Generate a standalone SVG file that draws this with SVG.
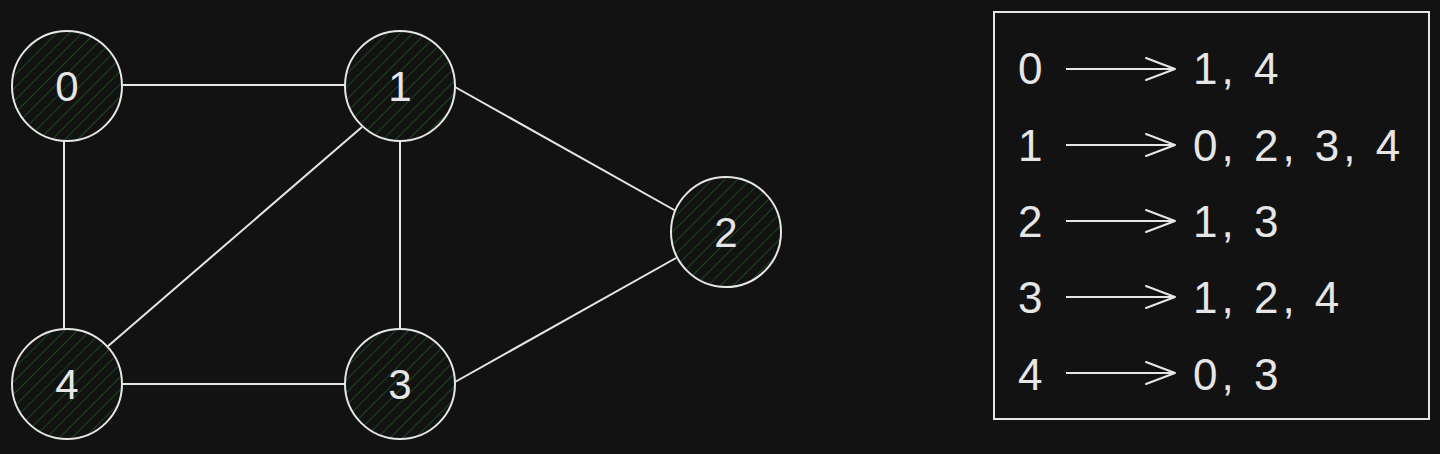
<svg xmlns="http://www.w3.org/2000/svg" width="1440" height="454" viewBox="0 0 1440 454">
<defs>
<pattern id="hatch" patternUnits="userSpaceOnUse" width="9" height="9" patternTransform="rotate(45)">
<line x1="0" y1="0" x2="0" y2="9" stroke="#1f6b27" stroke-width="1.2"/>
</pattern>
<marker id="arr" markerWidth="32" markerHeight="24" refX="30" refY="12" orient="auto" markerUnits="userSpaceOnUse">
<path d="M1 1 L30 12 L1 23" fill="none" stroke="#e6e6e6" stroke-width="2" stroke-linecap="round" stroke-linejoin="round"/>
</marker>
</defs>
<style>
.node circle.bg{fill:#121212;stroke:none}
.node circle.hatch{fill:url(#hatch);stroke:#e6e6e6;stroke-width:2}
.lbl{font-family:"Liberation Sans",sans-serif;font-size:42px;fill:#e6e6e6;text-anchor:middle;dominant-baseline:central}
.tx{font-family:"Liberation Sans",sans-serif;font-size:44px;fill:#e6e6e6;dominant-baseline:central;letter-spacing:4px}
.edge{stroke:#e6e6e6;stroke-width:2;fill:none}
</style>
<rect width="1440" height="454" fill="#121212"/>
<g id="connectors">
<line class="edge" x1="123" y1="85" x2="345" y2="85"/>
<line class="edge" x1="64" y1="141" x2="64" y2="329"/>
<line class="edge" x1="400" y1="141" x2="400" y2="329"/>
<line class="edge" x1="123" y1="384" x2="345" y2="384"/>
<line class="edge" x1="362" y1="127" x2="107" y2="347"/>
<line class="edge" x1="455" y1="87" x2="676" y2="211"/>
<line class="edge" x1="676" y1="258" x2="455" y2="382"/>
</g>
<g id="node-0" class="node"><circle class="bg" cx="67" cy="86" r="55"/><circle class="hatch" cx="67" cy="86" r="55"/><text class="lbl" x="67" y="86">0</text></g>
<g id="node-1" class="node"><circle class="bg" cx="400" cy="86" r="55"/><circle class="hatch" cx="400" cy="86" r="55"/><text class="lbl" x="400" y="86">1</text></g>
<g id="node-2" class="node"><circle class="bg" cx="726" cy="232" r="55"/><circle class="hatch" cx="726" cy="232" r="55"/><text class="lbl" x="726" y="232">2</text></g>
<g id="node-3" class="node"><circle class="bg" cx="400" cy="384" r="55"/><circle class="hatch" cx="400" cy="384" r="55"/><text class="lbl" x="400" y="384">3</text></g>
<g id="node-4" class="node"><circle class="bg" cx="67" cy="384" r="55"/><circle class="hatch" cx="67" cy="384" r="55"/><text class="lbl" x="67" y="384">4</text></g>
<g id="adjacency-list">
<rect x="994" y="12" width="435" height="407" fill="none" stroke="#e6e6e6" stroke-width="2"/>
<text class="tx" x="1018" y="68">0</text>
<text class="tx" x="1018" y="145">1</text>
<text class="tx" x="1018" y="221">2</text>
<text class="tx" x="1018" y="297">3</text>
<text class="tx" x="1018" y="374">4</text>
<line class="edge" x1="1066" y1="69" x2="1175" y2="69" marker-end="url(#arr)"/>
<line class="edge" x1="1066" y1="145" x2="1175" y2="145" marker-end="url(#arr)"/>
<line class="edge" x1="1066" y1="221" x2="1175" y2="221" marker-end="url(#arr)"/>
<line class="edge" x1="1066" y1="297" x2="1175" y2="297" marker-end="url(#arr)"/>
<line class="edge" x1="1066" y1="373" x2="1175" y2="373" marker-end="url(#arr)"/>
<text class="tx" x="1193" y="68">1, 4</text>
<text class="tx" x="1193" y="145">0, 2, 3, 4</text>
<text class="tx" x="1193" y="221">1, 3</text>
<text class="tx" x="1193" y="297">1, 2, 4</text>
<text class="tx" x="1193" y="374">0, 3</text>
</g>
</svg>
